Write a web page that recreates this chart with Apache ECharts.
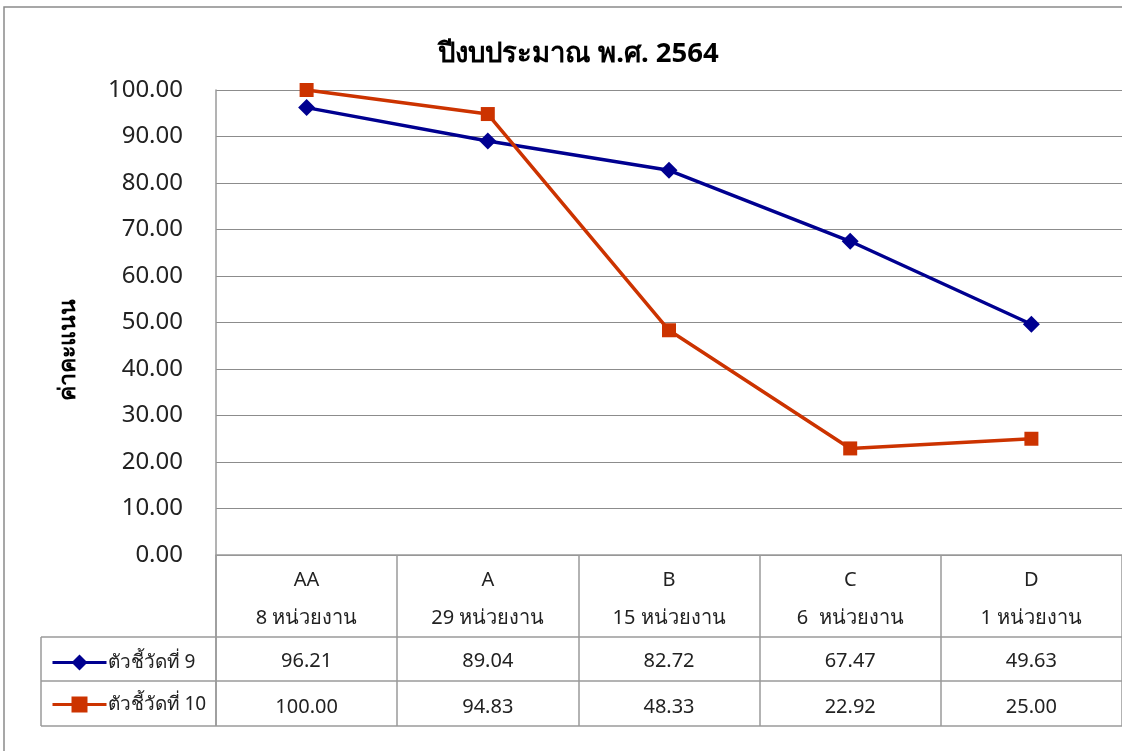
<!DOCTYPE html>
<html>
<head>
<meta charset="utf-8">
<script src="https://cdn.jsdelivr.net/npm/echarts@6/dist/echarts.min.js"></script>
<style>
  html, body { margin: 0; padding: 0; background: #fff; }
  #chart-container { width: 1122px; height: 751px; }
</style>
</head>
<body>
<div id="chart-container"></div>
<script>
var categories = ['AA\n8 หน่วยงาน', 'A\n29 หน่วยงาน', 'B\n15 หน่วยงาน', 'C\n6  หน่วยงาน', 'D\n1 หน่วยงาน'];
var seriesNames = ['ตัวชี้วัดที่ 9', 'ตัวชี้วัดที่ 10'];
var kpi9 = [96.21, 89.04, 82.72, 67.47, 49.63];
var kpi10 = [100.00, 94.83, 48.33, 22.92, 25.00];
var yTicks = [0, 10, 20, 30, 40, 50, 60, 70, 80, 90, 100];

var dom = document.getElementById('chart-container');
var myChart = echarts.init(dom);
var option;

var font = "'Noto Sans', 'Open Sans', sans-serif";
var gridColor = '#8c8c8c';
var tableColor = '#9a9a9a';

var gridLeft = 216, gridTop = 90, gridBottom = 196;
var rowTop = [637, 681, 726];

function valueAxis(values, offset, margin) {
  return {
    type: 'category',
    position: 'bottom',
    data: categories,
    offset: offset,
    axisLine: { show: false },
    axisTick: { show: false },
    axisLabel: {
      margin: margin,
      fontSize: 20,
      fontFamily: font,
      color: '#222',
      formatter: function (v, i) { return values[i].toFixed(2); }
    }
  };
}

option = {
  animation: false,
  title: {
    text: 'ปีงบประมาณ พ.ศ. 2564',
    left: 433,
    top: 35,
    textStyle: { fontSize: 27.5, fontWeight: 'bold', fontFamily: font, color: '#000' }
  },
  legend: {
    orient: 'vertical',
    left: 46,
    top: 648,
    itemWidth: 54,
    itemHeight: 20,
    itemGap: 23,
    data: seriesNames,
    lineStyle: { width: 3 },
    textStyle: { fontSize: 19, fontFamily: font, color: '#222', padding: [0, 0, 0, -4] }
  },
  grid: { left: gridLeft, right: 0, top: gridTop, bottom: gridBottom, containLabel: false },
  xAxis: [
    {
      type: 'category',
      data: categories,
      boundaryGap: true,
      axisLine: { show: true, lineStyle: { color: tableColor, width: 1.5 } },
      axisTick: { show: true, inside: false, length: 171, lineStyle: { color: tableColor, width: 1.5 } },
      axisLabel: { margin: 6, fontSize: 20, lineHeight: 38, fontFamily: font, color: '#222' }
    },
    valueAxis(kpi9, 82, 14),
    valueAxis(kpi10, 126, 16)
  ],
  yAxis: {
    type: 'value',
    min: 0,
    max: 100,
    interval: 10,
    axisLine: { show: true, lineStyle: { color: tableColor, width: 1.5 } },
    axisTick: { show: false },
    axisLabel: {
      margin: 33,
      fontSize: 24,
      fontFamily: font,
      color: '#222',
      formatter: function (v) { return v.toFixed(2); }
    },
    splitLine: { show: true, lineStyle: { color: gridColor, width: 1.2 } }
  },
  series: [
    {
      name: seriesNames[0],
      type: 'line',
      data: kpi9,
      symbol: 'diamond',
      symbolSize: 17,
      lineStyle: { color: '#000090', width: 3.5 },
      itemStyle: { color: '#000090' }
    },
    {
      name: seriesNames[1],
      type: 'line',
      data: kpi10,
      symbol: 'rect',
      symbolSize: 14,
      lineStyle: { color: '#cc3300', width: 3.5 },
      itemStyle: { color: '#cc3300' }
    }
  ],
  graphic: [
    // outer chart border
    { type: 'rect', shape: { x: 4, y: 7, width: 1200, height: 800 }, style: { fill: null, stroke: '#8a8a8a', lineWidth: 1.5 }, silent: true },
    // y axis title
    { type: 'text', x: 68, y: 350, rotation: Math.PI / 2, silent: true,
      style: { text: 'ค่าคะแนน', font: 'bold 23px ' + font, fill: '#000', align: 'center', verticalAlign: 'middle' } },
    // data table lines
    { type: 'line', shape: { x1: 41, y1: rowTop[0], x2: 1122, y2: rowTop[0] }, style: { stroke: tableColor, lineWidth: 1.5 }, silent: true },
    { type: 'line', shape: { x1: 41, y1: rowTop[1], x2: 1122, y2: rowTop[1] }, style: { stroke: tableColor, lineWidth: 1.5 }, silent: true },
    { type: 'line', shape: { x1: 41, y1: rowTop[2], x2: 1122, y2: rowTop[2] }, style: { stroke: tableColor, lineWidth: 1.5 }, silent: true },
    { type: 'line', shape: { x1: 41, y1: rowTop[0], x2: 41, y2: rowTop[2] }, style: { stroke: tableColor, lineWidth: 1.5 }, silent: true },
    { type: 'line', shape: { x1: gridLeft, y1: 555, x2: gridLeft, y2: rowTop[2] }, style: { stroke: tableColor, lineWidth: 1.5 }, silent: true }
  ]
};

if (option && typeof option === 'object') {
  myChart.setOption(option);
}

window.addEventListener('resize', myChart.resize);
</script>
</body>
</html>
